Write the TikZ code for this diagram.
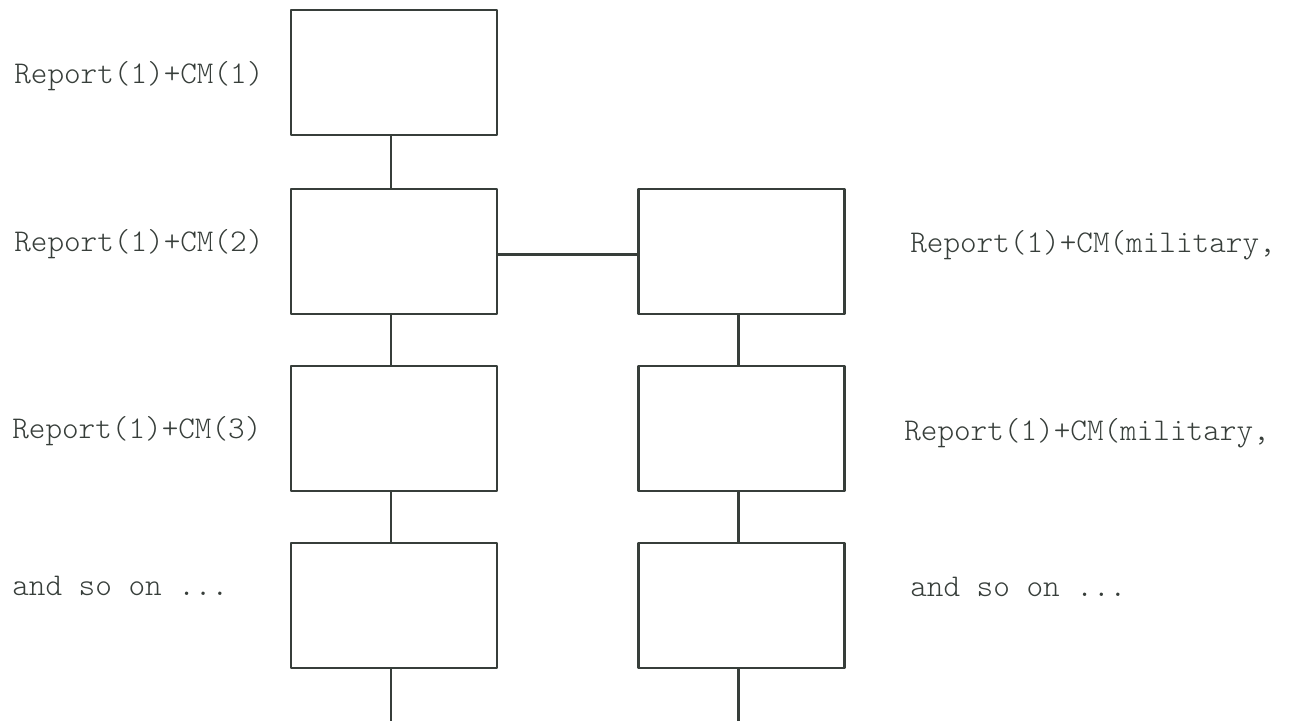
\documentclass[tikz,border=0pt]{standalone}
\usepackage{fontspec}
\definecolor{ink}{RGB}{55,62,58}
\begin{document}
\begin{tikzpicture}[x=0.025cm, y=-0.025cm, line join=round, line cap=round,
	box/.style={draw=ink, line width=1.7pt, minimum width=5.15cm, minimum height=3.125cm, inner sep=0pt},
	lab/.style={anchor=west, inner sep=0pt, text=ink, font=\ttfamily\fontseries{l}\fontsize{22.5}{24}\selectfont},
	wire/.style={draw=ink, line width=1.5pt}]
	\def\xl{394} \def\xr{741.5} % column centres
	\useasboundingbox (0,0) rectangle (1290,721);
	% left column
	\node[box] (l1) at (\xl,72.5) {};
	\node[box] (l2) at (\xl,251.5) {};
	\node[box] (l3) at (\xl,428.5) {};
	\node[box] (l4) at (\xl,605.5) {};
	% right column
	\node[box] (r2) at (\xr,251.5) {};
	\node[box] (r3) at (\xr,428.5) {};
	\node[box] (r4) at (\xr,605.5) {};
	\coordinate (lend) at (\xl-3,721);
	\coordinate (rend) at (\xr-3,721);
	% connectors
	\draw[wire] ([xshift=-3*0.025cm]l1.south)--([xshift=-3*0.025cm]l2.north)
		([xshift=-3*0.025cm]l2.south)--([xshift=-3*0.025cm]l3.north)
		([xshift=-3*0.025cm]l3.south)--([xshift=-3*0.025cm]l4.north)
		([xshift=-3*0.025cm]l4.south)--(lend);
	\draw[wire] ([xshift=-3*0.025cm]r2.south)--([xshift=-3*0.025cm]r3.north)
		([xshift=-3*0.025cm]r3.south)--([xshift=-3*0.025cm]r4.north)
		([xshift=-3*0.025cm]r4.south)--(rend);
	\draw[wire] ([yshift=-3*0.025cm]l2.east)--([yshift=-3*0.025cm]r2.west);
	% labels
	\node[lab] (t1) at (14,76) {Report(1)+CM(1)};
	\node[lab] (t2) at (14,244) {Report(1)+CM(2)};
	\node[lab] (t3) at (12,431) {Report(1)+CM(3)};
	\node[lab] (t4) at (12,586) {and so on ...};
	\node[lab] (s2) at (910,245) {Report(1)+CM(military,};
	\node[lab] (s3) at (904,433) {Report(1)+CM(military,};
	\node[lab] (s4) at (910,587) {and so on ...};
\end{tikzpicture}
\end{document}
